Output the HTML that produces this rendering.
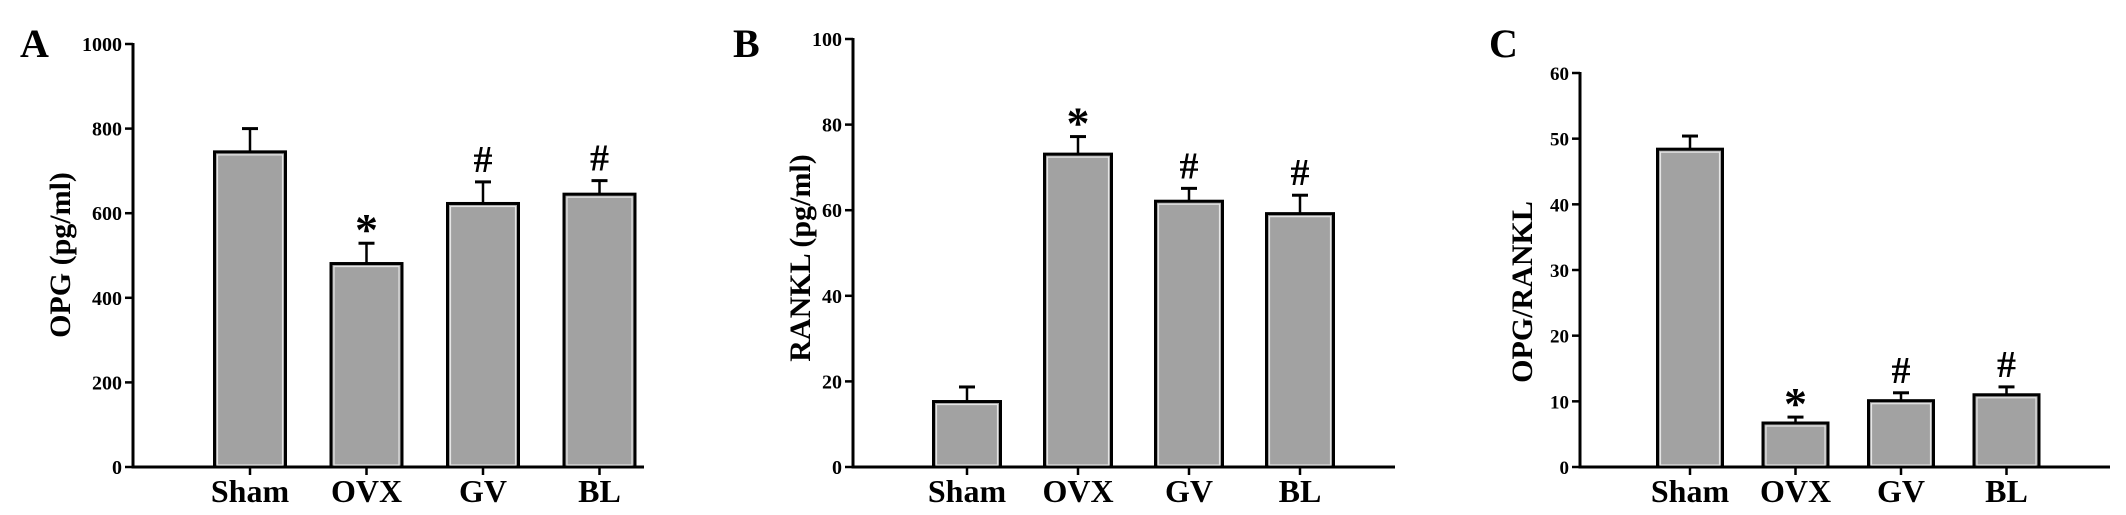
<!DOCTYPE html>
<html><head><meta charset="utf-8">
<style>
html,body{margin:0;padding:0;background:#fff;}
svg{display:block;}
text{font-family:"Liberation Serif",serif;font-weight:bold;fill:#000;}
</style></head>
<body>
<svg id="fig" width="2126" height="515" viewBox="0 0 2126 515"></svg>
<script>
const categories = ["Sham","OVX","GV","BL"];
const opgValues = [745, 481, 623, 645];
const opgErrors = [55, 48, 51, 32];
const opgMarks = ["", "*", "#", "#"];
const opgTicks = [0, 200, 400, 600, 800, 1000];
const rankValues = [15.3, 73.1, 62.1, 59.2];
const rankErrors = [3.4, 4.1, 3.0, 4.3];
const rankMarks = ["", "*", "#", "#"];
const rankTicks = [0, 20, 40, 60, 80, 100];
const ratioValues = [48.4, 6.7, 10.1, 11.0];
const ratioErrors = [2.0, 0.9, 1.2, 1.2];
const ratioMarks = ["", "*", "#", "#"];
const ratioTicks = [0, 10, 20, 30, 40, 50, 60];

const NS = "http://www.w3.org/2000/svg";
const svg = document.getElementById("fig");
function mk(tag, attrs, parent){
  const e = document.createElementNS(NS, tag);
  for (const k in attrs) e.setAttribute(k, attrs[k]);
  (parent||svg).appendChild(e);
  return e;
}

function panel(p){
  const g = mk("g", {});
  
  
  const y0 = 467, yTop = p.yTop;
  const ymax = p.ticks[p.ticks.length-1];
  const yScale = v => y0 - (v/ymax)*(y0-yTop);
  const xScale = i => p.axisX + p.firstOff + i*p.step;

  const letter = mk("text", {x:p.letterX, y:57, "font-size":40}, g);
  letter.textContent = p.letter;
  
  

  const yaxis = mk("line", {x1:p.axisX, y1:yTop-1, x2:p.axisX, y2:y0+1.5, stroke:"#000","stroke-width":3}, g);
  
  
  const xaxis = mk("line", {x1:p.axisX-1.5, y1:y0, x2:p.axisEnd, y2:y0, stroke:"#000","stroke-width":3}, g);
  
  

  p.ticks.forEach(t=>{
    const y = yScale(t);
    const tk = mk("line", {x1:p.axisX-8, y1:y, x2:p.axisX, y2:y, stroke:"#000","stroke-width":2.5}, g);
    
    
    const tl = mk("text", {x:p.axisX-11, y:y+7, "font-size":p.tickFont, "text-anchor":"end"}, g);
    tl.textContent = t;
    
    
  });

  const tt = mk("text", {x:0, y:0, "font-size":30, "text-anchor":"middle",
    transform:`translate(${p.titleX},${p.titleY}) rotate(-90)`}, g);
  tt.textContent = p.title;
  
  

  categories.forEach((c,i)=>{
    const cx = xScale(i), v = p.values[i], e = p.errors[i];
    const top = yScale(v), et = yScale(v+e);
    const ln = mk("line", {x1:cx, y1:et, x2:cx, y2:top, stroke:"#000","stroke-width":2.5}, g);
    
    
    const cap = mk("line", {x1:cx-8, y1:et, x2:cx+8, y2:et, stroke:"#000","stroke-width":3}, g);
    
    
    const bar = mk("rect", {x:cx-p.bw/2, y:top, width:p.bw, height:y0-top, fill:"#a2a2a2", stroke:"#000","stroke-width":3}, g);
    
    
    const inner = mk("rect", {x:cx-p.bw/2+3, y:top+3, width:p.bw-6, height:Math.max(0,y0-top-5), fill:"none", stroke:"#e6e6e6","stroke-width":1.2}, g);
    
    
    const xt = mk("line", {x1:cx, y1:y0, x2:cx, y2:y0+8, stroke:"#000","stroke-width":2.5}, g);
    
    
    const xl = mk("text", {x:cx, y:502, "font-size":32, "text-anchor":"middle"}, g);
    xl.textContent = c;
    
    
    if (p.marks[i]) {
      const star = p.marks[i] === "*";
      const m = mk("text", {x:cx, y: star ? et+2 : et-10, "font-size": star ? 46 : 38, "text-anchor":"middle"}, g);
      m.textContent = p.marks[i];
      
      
    }
  });
}

panel({name:"panel-a-opg", letter:"A", letterX:20, axisX:133, axisEnd:644, yTop:44, firstOff:117, step:116.5, bw:71,
  ticks:opgTicks, values:opgValues, errors:opgErrors, marks:opgMarks, tickFont:20,
  title:"OPG (pg/ml)", titleX:70, titleY:255});
panel({name:"panel-b-rankl", letter:"B", letterX:733, axisX:853, axisEnd:1395, yTop:39, firstOff:114, step:111, bw:67,
  ticks:rankTicks, values:rankValues, errors:rankErrors, marks:rankMarks, tickFont:20,
  title:"RANKL (pg/ml)", titleX:810, titleY:258});
panel({name:"panel-c-ratio", letter:"C", letterX:1489, axisX:1580, axisEnd:2110, yTop:73, firstOff:110, step:105.5, bw:65,
  ticks:ratioTicks, values:ratioValues, errors:ratioErrors, marks:ratioMarks, tickFont:19,
  title:"OPG/RANKL", titleX:1532, titleY:292});
</script>
</body></html>
